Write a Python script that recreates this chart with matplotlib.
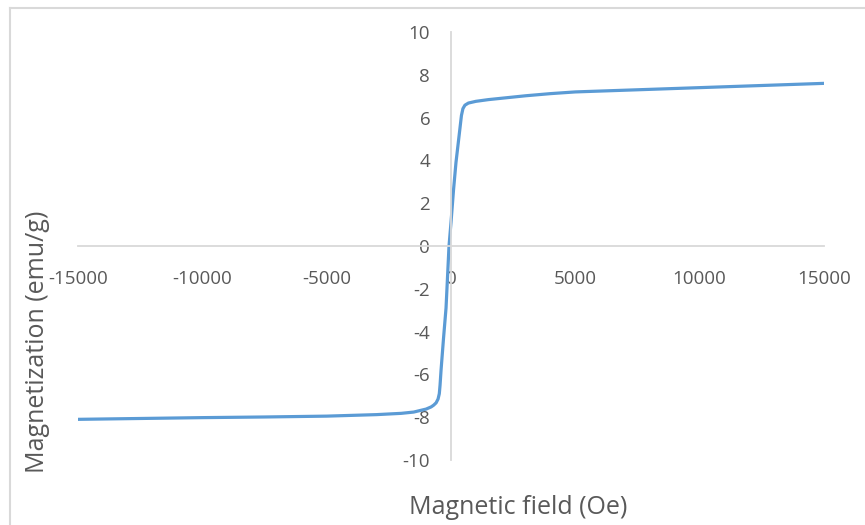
import matplotlib
matplotlib.use("Agg")
import matplotlib.pyplot as plt
from matplotlib.lines import Line2D
import numpy as np

# Data (field in Oe, magnetization in emu/g)
field = [-15000, -12500, -10000, -7500, -5000, -3000, -2000, -1500, -1000, -800,
         -700, -600, -520, -470, -440, -400, -300, -200, -80, 0, 100, 200,
         300, 360, 420, 480, 560, 700, 1000, 1500, 2000, 3000, 4000, 5000,
         7500, 10000, 12500, 15000]
magnet = [-8.10, -8.06, -8.02, -7.99, -7.95, -7.88, -7.82, -7.76, -7.62, -7.52,
          -7.44, -7.33, -7.15, -6.9, -6.5, -5.8, -4.3, -2.9, 0.0, 1.1, 2.6, 3.9,
          4.9, 5.5, 6.1, 6.42, 6.58, 6.68, 6.76, 6.84, 6.9, 7.02, 7.12, 7.2,
          7.3, 7.4, 7.5, 7.6]

xticks = [-15000, -10000, -5000, 0, 5000, 10000, 15000]
yticks = [-10, -8, -6, -4, -2, 0, 2, 4, 6, 8, 10]

W, H = 865, 525
fig = plt.figure(figsize=(W / 100, H / 100), dpi=100)
plt.rcParams['font.family'] = ['Open Sans', 'DejaVu Sans']

def fx(px):
    return px / W

def fy(py):
    return 1 - py / H

ax = fig.add_axes([fx(78), fy(460), fx(824) - fx(78), fy(32) - fy(460)])
ax.plot(field, magnet, color='#5B9BD5', lw=2.3, solid_capstyle='round')
ax.set_xlim(-15000, 15000)
ax.set_ylim(-10, 10)

grey = '#D9D9D9'
for s in ['top', 'right']:
    ax.spines[s].set_visible(False)
ax.spines['left'].set_position(('data', 0))
ax.spines['bottom'].set_position(('data', 0))
ax.spines['left'].set_color(grey)
ax.spines['bottom'].set_color(grey)
ax.spines['left'].set_linewidth(1.3)
ax.spines['bottom'].set_linewidth(1.3)
ax.set_zorder(2)

ax.set_xticks(xticks)
ax.set_yticks(yticks)
ax.set_xticklabels([str(v) for v in xticks])
ax.set_yticklabels([str(v) for v in yticks])
ax.tick_params(axis='both', length=0, labelcolor='#595959', labelsize=13.5)
ax.tick_params(axis='x', pad=17)
ax.tick_params(axis='y', pad=15)
ax.patch.set_alpha(0)

fig.text(fx(518), fy(508), 'Magnetic field (Oe)', ha='center', va='center',
         fontsize=18, color='#595959')
fig.text(fx(38), fy(342), 'Magnetization (emu/g)', ha='center', va='center',
         rotation=90, fontsize=18, color='#595959')

# chart-area border (top and left edges visible)
fig.add_artist(Line2D([fx(10), 1.0], [fy(8), fy(8)], color=grey, lw=1.5,
                      transform=fig.transFigure))
fig.add_artist(Line2D([fx(10), fx(10)], [fy(8), 0.0], color=grey, lw=1.5,
                      transform=fig.transFigure))

fig.savefig('out.png', dpi=100)
